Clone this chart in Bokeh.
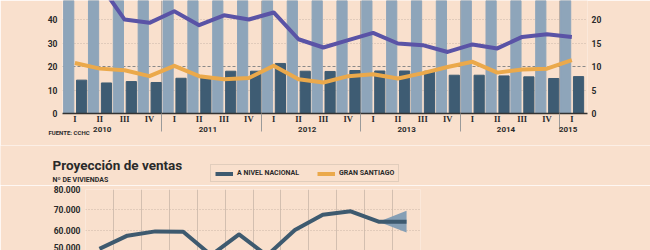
from bokeh.plotting import figure
from bokeh.models import (ColumnDataSource, FixedTicker, LinearAxis, Range1d, Grid,
                          Legend, LegendItem, Label, Title)
from bokeh.embed import file_html
from bokeh.resources import INLINE
from bokeh.transform import dodge

NAN = float("nan")

# ---------------- data (top chart) ----------------
quarters = ["I", "II", "III", "IV"] * 5 + ["I"]
years = ["2010", "2011", "2012", "2013", "2014", "2015"]
year_first_quarter = [0, 4, 8, 12, 16, 20]
year_quarter_count = [4, 4, 4, 4, 4, 1]
source_note = "FUENTE: CCHC"
# light bars run beyond the cropped top of the picture
light_bars = [64, 63, 62, 61, 63, 62, 63, 64, 66, 62, 60, 59, 58, 57, 56, 55, 54, 55, 56, 57, 58]
dark_bars = [14.2, 13.0, 13.6, 13.2, 15.0, 15.1, 18.0, 18.0, 21.3, 18.0, 17.9,
             18.3, 18.1, 18.1, 18.0, 16.3, 16.3, 16.0, 15.6, 14.9, 15.7]
purple_line = [52.0, 55.0, 40.0, 38.6, 43.5, 37.6, 41.8, 40.0, 43.0, 31.6, 28.1,
               31.2, 34.3, 29.8, 29.1, 26.2, 29.4, 27.7, 32.6, 33.7, 32.6]
orange_line = [21.5, 19.1, 18.4, 15.9, 20.3, 15.9, 14.6, 15.1, 20.3, 14.6, 13.2,
               15.9, 16.7, 14.9, 17.2, 19.8, 22.0, 17.4, 18.7, 19.1, 22.7]
left_ticks = [0, 10, 20, 30, 40]
right_ticks = [0, 5, 10, 15, 20]

# ---------------- data (bottom chart) ----------------
chart_title = "Proyección de ventas"
chart_subtitle = "Nº DE VIVIENDAS"
series_names = ["A NIVEL NACIONAL", "GRAN SANTIAGO"]
periods = list(range(12))
nacional = [50800, 57300, 59400, 59200, 47700, 57900, 47500, 60100, 67600, 69300, 64200, 64100]
# Gran Santiago lies outside the cropped picture: values not readable
gran_santiago = [NAN, NAN, NAN, NAN, NAN, NAN, NAN, NAN, NAN, NAN, NAN, NAN]
band_x = [10, 11]
band_low = [64200, 58900]
band_high = [64200, 69600]
ventas_ticks = [50000, 60000, 70000, 80000]
ventas_labels = ["50.000", "60.000", "70.000", "80.000"]

BG = "#F9E0CD"
LIGHT = "#8EA5BA"
DARK = "#3E5C73"
PURPLE = "#5A53A6"
ORANGE = "#EBA94B"
NAV = "#3E5A6F"
TXT = "#2a2a2a"
SANS = "Roboto"


def style_axis(ax, size="8.5px", font=SANS, standoff=5):
    ax.axis_line_color = None
    ax.major_tick_line_color = None
    ax.minor_tick_line_color = None
    ax.major_tick_out = 0
    ax.major_tick_in = 0
    ax.minor_tick_out = 0
    ax.minor_tick_in = 0
    ax.major_label_standoff = standoff
    ax.major_label_text_font = font
    ax.major_label_text_font_style = "bold"
    ax.major_label_text_font_size = size
    ax.major_label_text_color = TXT


def base(p):
    p.background_fill_color = BG
    p.border_fill_color = BG
    p.outline_line_color = None


# ================= top chart =================
src = ColumnDataSource(dict(x=list(range(len(quarters))), light=light_bars, dark=dark_bars,
                            purple=purple_line, orange=orange_line))
p1 = figure(width=650, height=145, output_backend="svg", toolbar_location=None,
            x_range=Range1d(-0.5, 20.63), y_range=Range1d(0, 48.1),
            min_border_left=62, min_border_right=63, min_border_top=0, min_border_bottom=32)
p1.extra_y_ranges = {"right": Range1d(0, 24.05)}
base(p1)

sep = [year_first_quarter[i] - 0.5 for i in range(len(years))]
p1.xgrid.ticker = FixedTicker(ticks=sep)
p1.xgrid.grid_line_color = "#B9ADA5"
p1.xgrid.grid_line_width = 1
p1.ygrid.ticker = FixedTicker(ticks=[10, 30, 40])
p1.ygrid.grid_line_color = "#C9B6A8"
p1.ygrid.grid_line_dash = "1 2"
p1.add_layout(Grid(dimension=1, ticker=FixedTicker(ticks=[20]), grid_line_color="#888888",
                   grid_line_dash="3 2", grid_line_width=1))

p1.vbar(x=dodge("x", -0.25), top="light", width=0.41, color=LIGHT, source=src)
p1.vbar(x=dodge("x", 0.27), top="dark", width=0.41, color=DARK, source=src)
p1.line("x", "purple", line_width=4, color=PURPLE, line_join="round", source=src)
p1.line("x", "orange", line_width=4, color=ORANGE, line_join="round", source=src)

# quarter axis
xa = p1.xaxis[0]
style_axis(xa, size="8.5px", font="Liberation Serif", standoff=0)
xa.ticker = FixedTicker(ticks=list(range(len(quarters))))
xa.major_label_overrides = {i: q for i, q in enumerate(quarters)}
xa.axis_line_color = "#333333"
xa.axis_line_width = 1.5

# year axis (carries the year separators below the quarter row)
year_centers = [year_first_quarter[i] + (year_quarter_count[i] - 1) / 2 - 0.15 for i in range(len(years))]
year_centers[0] -= 0.25
ya2 = LinearAxis(ticker=FixedTicker(ticks=year_centers, minor_ticks=sep[1:]),
                 major_label_overrides={c: y for c, y in zip(year_centers, years)})
style_axis(ya2, size="8px", standoff=-5)
ya2.minor_tick_line_color = "#9A9A9A"
ya2.minor_tick_in = 13
ya2.minor_tick_out = 5
p1.add_layout(ya2, "below")

p1.add_layout(Title(text=source_note, align="left", offset=-14, vertical_align="top",
                    standoff=-12, text_font=SANS, text_font_style="bold",
                    text_font_size="6px", text_color=TXT), "below")

la = p1.yaxis[0]
style_axis(la, size="8.5px", standoff=5)
la.ticker = FixedTicker(ticks=left_ticks)

ra = LinearAxis(y_range_name="right", ticker=FixedTicker(ticks=right_ticks))
style_axis(ra, size="8.5px", standoff=4)
p1.add_layout(ra, "right")

# ================= bottom chart header (title, subtitle, legend) =================
ph = figure(width=650, height=40, output_backend="svg", toolbar_location=None,
            x_range=Range1d(0, 650), y_range=Range1d(0, 40),
            x_axis_location=None, y_axis_location=None,
            min_border_left=0, min_border_right=0, min_border_top=0, min_border_bottom=0)
base(ph)
ph.grid.visible = False
ph.add_layout(Label(x=52, y=21, text=chart_title, text_font=SANS, text_font_style="bold",
                    text_font_size="13.5px", text_color=TXT, text_baseline="alphabetic"))
ph.add_layout(Label(x=52, y=6, text=chart_subtitle, text_font=SANS, text_font_style="bold",
                    text_font_size="7px", text_color=TXT, text_baseline="alphabetic"))
# legend entries use the series' own styles (their values lie outside this strip)
key_nac = ph.line(periods, nacional, line_width=4, color=NAV)
key_gs = ph.line(periods, gran_santiago, line_width=4, color=ORANGE)
legend = Legend(items=[LegendItem(label=series_names[0], renderers=[key_nac]),
                       LegendItem(label=series_names[1], renderers=[key_gs])],
                location=(210, 3), orientation="horizontal")
legend.label_text_font = SANS
legend.label_text_font_style = "bold"
legend.label_text_font_size = "7px"
legend.label_text_color = TXT
legend.label_standoff = 4
legend.label_height = 7
legend.glyph_width = 18
legend.glyph_height = 7
legend.spacing = 18
legend.padding = 4
legend.margin = 0
legend.border_line_color = "#C9B9AC"
legend.background_fill_alpha = 0
ph.add_layout(legend, "center")

# ================= bottom chart =================
p2 = figure(width=650, height=65, output_backend="svg", toolbar_location=None,
            x_range=Range1d(-0.5, 11.5), y_range=Range1d(50000, 80000),
            x_axis_location=None,
            min_border_left=85, min_border_right=230, min_border_top=4, min_border_bottom=0)
base(p2)
p2.xgrid.ticker = FixedTicker(ticks=[i - 0.5 for i in range(len(periods) + 1)])
p2.xgrid.grid_line_color = "#D3BFB0"
p2.ygrid.ticker = FixedTicker(ticks=ventas_ticks)
p2.ygrid.grid_line_color = "#CBB6A6"
p2.ygrid.grid_line_dash = "1 2"

p2.varea(x=band_x, y1=band_low, y2=band_high, color="#7F9BB3", alpha=0.95)
p2.line(periods, gran_santiago, line_width=4, color=ORANGE, line_join="round")
p2.line(periods, nacional, line_width=4, color=NAV, line_join="round")

ax2 = p2.yaxis[0]
style_axis(ax2, size="8.5px", standoff=5)
ax2.ticker = FixedTicker(ticks=ventas_ticks)
ax2.major_label_overrides = {t: l for t, l in zip(ventas_ticks, ventas_labels)}

# separate roots, stacked on the page (no cross-plot frame alignment)
html = file_html([p1, ph, p2], INLINE)
html = html.replace("<body>", '<body style="background:%s; margin:0;">' % BG, 1)
open("out.html", "w").write(html)
